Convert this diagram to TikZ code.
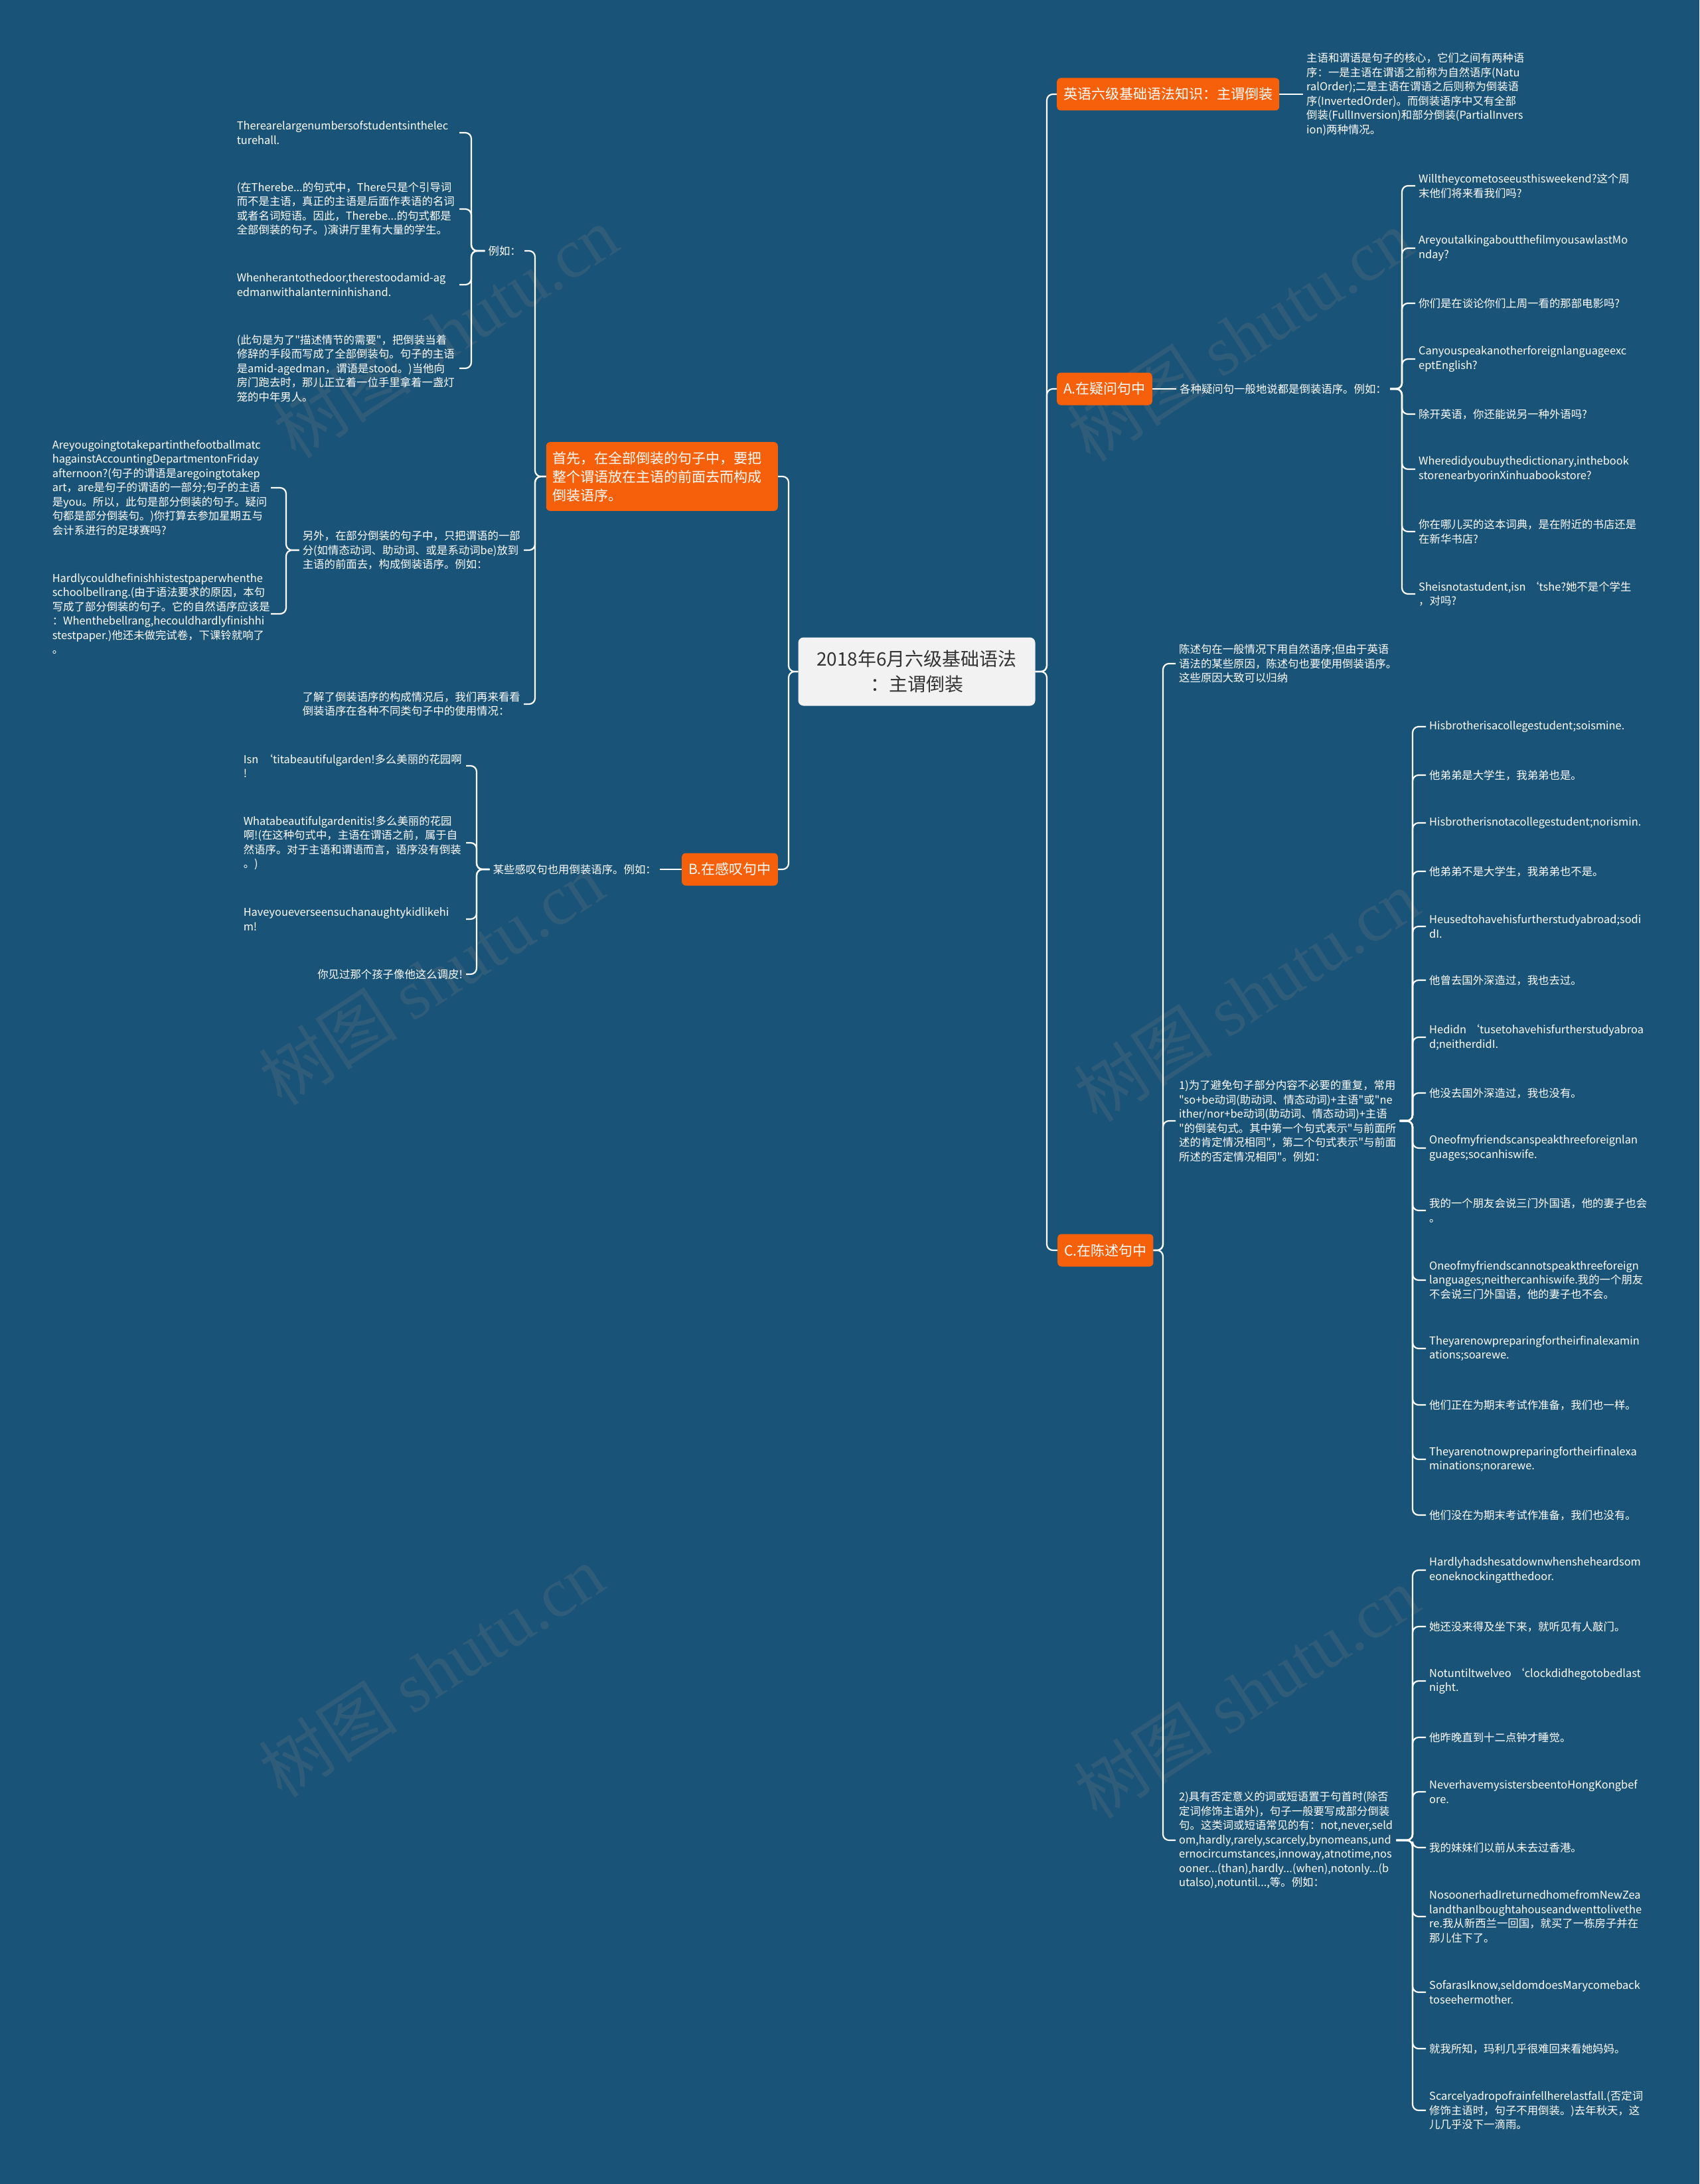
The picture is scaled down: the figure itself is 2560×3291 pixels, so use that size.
\documentclass[tikz,border=0pt]{standalone}
\usepackage{fontspec}
\setmainfont{Noto Sans CJK SC}[Ligatures=TeXOff]
\newfontfamily\markfont{Liberation Serif}
\definecolor{mapbg}{RGB}{26,83,120}
\definecolor{mporange}{RGB}{247,96,10}
\definecolor{rootgray}{RGB}{242,242,242}
\definecolor{rootink}{RGB}{51,51,51}
\definecolor{markgray}{RGB}{128,128,128}

\begin{document}
\begin{tikzpicture}[
  x=1pt, y=-1pt,
  every node/.style={font=\fontsize{16.4}{21.5}\selectfont},
  root/.style={fill=rootgray, text=rootink, rounded corners=8pt, minimum width=357pt, minimum height=103pt, align=center, font=\fontsize{28}{38}\selectfont},
  topic/.style={fill=mporange, text=white, rounded corners=6pt, inner xsep=10pt, inner ysep=14pt, minimum height=49pt, align=left, font=\fontsize{21}{28}\selectfont},
  leaf/.style={text=white, align=left, inner xsep=5pt, inner ysep=2pt},
  wideleaf/.style={leaf, text width=330pt},
  link/.style={draw=white, line width=2.2pt, rounded corners=9pt},
  wmark/.style={text=markgray, opacity=0.2, rotate=33, font=\fontsize{105}{110}\selectfont}
]

% Background
\fill[mapbg] (0,0) rectangle (2560,3291);
\useasboundingbox (0,0) rectangle (2560,3291);

% Watermarks
\node[wmark] (wm1) at (671,500) {树图 {\markfont shutu.cn}};
\node[wmark] (wm2) at (1868,505) {树图 {\markfont shutu.cn}};
\node[wmark] (wm3) at (650,1475) {树图 {\markfont shutu.cn}};
\node[wmark] (wm4) at (1878,1500) {树图 {\markfont shutu.cn}};
\node[wmark] (wm5) at (650,2518) {树图 {\markfont shutu.cn}};
\node[wmark] (wm6) at (1878,2550) {树图 {\markfont shutu.cn}};

% Spines
\coordinate (sRootL) at (1188,0);
\coordinate (sRootR) at (1577,0);
\coordinate (sFull) at (806,0);
\coordinate (sEg) at (710,0);
\coordinate (sPart) at (431,0);
\coordinate (sExh) at (718,0);
\coordinate (sQ) at (2112,0);
\coordinate (sStat) at (1752,0);
\coordinate (sEx) at (2128,0);

% Root
\node[root] (root) at (1381,1012) {2018年6月六级基础语法\\：主谓倒装};

% Left: full inversion
\node[topic, anchor=east, text width=329pt] (full) at (1172,718) {首先，在全部倒装的句子中，要把\\整个谓语放在主语的前面去而构成\\倒装语序。};
\node[leaf, anchor=east] (eg) at (790,378) {例如：};
\node[wideleaf, anchor=east] (eg1) at (692,200) {Therearelargenumbersofstudentsinthelec\\turehall.};
\node[wideleaf, anchor=east] (eg2) at (692,315) {(在Therebe...的句式中，There只是个引导词\\而不是主语，真正的主语是后面作表语的名词\\或者名词短语。因此，Therebe...的句式都是\\全部倒装的句子。)演讲厅里有大量的学生。};
\node[wideleaf, anchor=east] (eg3) at (692,429) {Whenherantothedoor,therestoodamid-ag\\edmanwithalanterninhishand.};
\node[wideleaf, anchor=east] (eg4) at (692,555) {(此句是为了"描述情节的需要"，把倒装当着\\修辞的手段而写成了全部倒装句。句子的主语\\是amid-agedman，谓语是stood。)当他向\\房门跑去时，那儿正立着一位手里拿着一盏灯\\笼的中年男人。};
\node[leaf, anchor=east] (part) at (789,829) {另外，在部分倒装的句子中，只把谓语的一部\\分(如情态动词、助动词、或是系动词be)放到\\主语的前面去，构成倒装语序。例如：};
\node[wideleaf, anchor=east, text width=324pt] (part1) at (408,735) {Areyougoingtotakepartinthefootballmatc\\hagainstAccountingDepartmentonFriday\\afternoon?(句子的谓语是aregoingtotakep\\art，are是句子的谓语的一部分;句子的主语\\是you。所以，此句是部分倒装的句子。疑问\\句都是部分倒装句。)你打算去参加星期五与\\会计系进行的足球赛吗?};
\node[wideleaf, anchor=east, text width=324pt] (part2) at (408,925) {Hardlycouldhefinishhistestpaperwhenthe\\schoolbellrang.(由于语法要求的原因，本句\\写成了部分倒装的句子。它的自然语序应该是\\：Whenthebellrang,hecouldhardlyfinishhi\\stestpaper.)他还未做完试卷，下课铃就响了\\。};
\node[leaf, anchor=east] (review) at (789,1061) {了解了倒装语序的构成情况后，我们再来看看\\倒装语序在各种不同类句子中的使用情况：};

% Left: exclamations
\node[topic, anchor=east] (excl) at (1172,1310) {B.在感叹句中};
\node[leaf, anchor=east] (exh) at (994,1310) {某些感叹句也用倒装语序。例如：};
\node[wideleaf, anchor=east] (exh1) at (702,1154) {Isn~‘titabeautifulgarden!多么美丽的花园啊\\!};
\node[wideleaf, anchor=east] (exh2) at (702,1270) {Whatabeautifulgardenitis!多么美丽的花园\\啊!(在这种句式中，主语在谓语之前，属于自\\然语序。对于主语和谓语而言，语序没有倒装\\。)};
\node[wideleaf, anchor=east] (exh3) at (702,1385) {Haveyoueverseensuchanaughtykidlikehi\\m!};
\node[leaf, anchor=east] (exh4) at (702,1468) {你见过那个孩子像他这么调皮!};

% Right: basics
\node[topic, anchor=west] (basic) at (1592,142) {英语六级基础语法知识：主谓倒装};
\node[leaf, anchor=west] (def) at (1963,142) {主语和谓语是句子的核心，它们之间有两种语\\序：一是主语在谓语之前称为自然语序(Natu\\ralOrder);二是主语在谓语之后则称为倒装语\\序(InvertedOrder)。而倒装语序中又有全部\\倒装(FullInversion)和部分倒装(PartialInvers\\ion)两种情况。};

% Right: questions
\node[topic, anchor=west] (quest) at (1592,586) {A.在疑问句中};
\node[leaf, anchor=west] (qintro) at (1772,586) {各种疑问句一般地说都是倒装语序。例如：};
\node[leaf, anchor=west] (q1) at (2132,280) {Willtheycometoseeusthisweekend?这个周\\末他们将来看我们吗?};
\node[leaf, anchor=west] (q2) at (2132,374) {AreyoutalkingaboutthefilmyousawlastMo\\nday?};
\node[leaf, anchor=west] (q3) at (2132,457) {你们是在谈论你们上周一看的那部电影吗?};
\node[leaf, anchor=west] (q4) at (2132,541) {Canyouspeakanotherforeignlanguageexc\\eptEnglish?};
\node[leaf, anchor=west] (q5) at (2132,624) {除开英语，你还能说另一种外语吗?};
\node[leaf, anchor=west] (q6) at (2132,707) {Wheredidyoubuythedictionary,inthebook\\storenearbyorinXinhuabookstore?};
\node[leaf, anchor=west] (q7) at (2132,801) {你在哪儿买的这本词典，是在附近的书店还是\\在新华书店?};
\node[leaf, anchor=west] (q8) at (2132,895) {Sheisnotastudent,isn ‘tshe?她不是个学生\\，对吗?};

% Right: statements
\node[topic, anchor=west] (stat) at (1593,1884) {C.在陈述句中};
\node[leaf, anchor=west] (stIntro) at (1771,1000) {陈述句在一般情况下用自然语序;但由于英语\\语法的某些原因，陈述句也要使用倒装语序。\\这些原因大致可以归纳};
\node[leaf, anchor=west] (rep) at (1771,1689) {1)为了避免句子部分内容不必要的重复，常用\\"so+be动词(助动词、情态动词)+主语"或"ne\\ither/nor+be动词(助动词、情态动词)+主语\\"的倒装句式。其中第一个句式表示"与前面所\\述的肯定情况相同"，第二个句式表示"与前面\\所述的否定情况相同"。例如：};
\node[leaf, anchor=west] (rep1) at (2148,1095) {Hisbrotherisacollegestudent;soismine.};
\node[leaf, anchor=west] (rep2) at (2148,1168) {他弟弟是大学生，我弟弟也是。};
\node[leaf, anchor=west] (rep3) at (2148,1240) {Hisbrotherisnotacollegestudent;norismin.};
\node[leaf, anchor=west] (rep4) at (2148,1313) {他弟弟不是大学生，我弟弟也不是。};
\node[leaf, anchor=west] (rep5) at (2148,1396) {Heusedtohavehisfurtherstudyabroad;sodi\\dI.};
\node[leaf, anchor=west] (rep6) at (2148,1477) {他曾去国外深造过，我也去过。};
\node[leaf, anchor=west] (rep7) at (2148,1563) {Hedidn ‘tusetohavehisfurtherstudyabroa\\d;neitherdidI.};
\node[leaf, anchor=west] (rep8) at (2148,1647) {他没去国外深造过，我也没有。};
\node[leaf, anchor=west] (rep9) at (2148,1730) {Oneofmyfriendscanspeakthreeforeignlan\\guages;socanhiswife.};
\node[leaf, anchor=west] (rep10) at (2148,1824) {我的一个朋友会说三门外国语，他的妻子也会\\。};
\node[leaf, anchor=west] (rep11) at (2148,1929) {Oneofmyfriendscannotspeakthreeforeign\\languages;neithercanhiswife.我的一个朋友\\不会说三门外国语，他的妻子也不会。};
\node[leaf, anchor=west] (rep12) at (2148,2032) {Theyarenowpreparingfortheirfinalexamin\\ations;soarewe.};
\node[leaf, anchor=west] (rep13) at (2148,2117) {他们正在为期末考试作准备，我们也一样。};
\node[leaf, anchor=west] (rep14) at (2148,2199) {Theyarenotnowpreparingfortheirfinalexa\\minations;norarewe.};
\node[leaf, anchor=west] (rep15) at (2148,2283) {他们没在为期末考试作准备，我们也没有。};
\node[leaf, anchor=west] (neg) at (1771,2773) {2)具有否定意义的词或短语置于句首时(除否\\定词修饰主语外)，句子一般要写成部分倒装\\句。这类词或短语常见的有：not,never,seld\\om,hardly,rarely,scarcely,bynomeans,und\\ernocircumstances,innoway,atnotime,nos\\ooner...(than),hardly...(when),notonly...(b\\utalso),notuntil...,等。例如：};
\node[leaf, anchor=west] (neg1) at (2148,2366) {Hardlyhadshesatdownwhensheheardsom\\eoneknockingatthedoor.};
\node[leaf, anchor=west] (neg2) at (2148,2451) {她还没来得及坐下来，就听见有人敲门。};
\node[leaf, anchor=west] (neg3) at (2148,2533) {Notuntiltwelveo ‘clockdidhegotobedlast\\night.};
\node[leaf, anchor=west] (neg4) at (2148,2618) {他昨晚直到十二点钟才睡觉。};
\node[leaf, anchor=west] (neg5) at (2148,2700) {NeverhavemysistersbeentoHongKongbef\\ore.};
\node[leaf, anchor=west] (neg6) at (2148,2784) {我的妹妹们以前从未去过香港。};
\node[leaf, anchor=west] (neg7) at (2148,2888) {NosoonerhadIreturnedhomefromNewZea\\landthanIboughtahouseandwenttolivethe\\re.我从新西兰一回国，就买了一栋房子并在\\那儿住下了。};
\node[leaf, anchor=west] (neg8) at (2148,3002) {SofarasIknow,seldomdoesMarycomeback\\toseehermother.};
\node[leaf, anchor=west] (neg9) at (2148,3087) {就我所知，玛利几乎很难回来看她妈妈。};
\node[leaf, anchor=west] (neg10) at (2148,3180) {Scarcelyadropofrainfellherelastfall.(否定词\\修饰主语时，句子不用倒装。)去年秋天，这\\儿几乎没下一滴雨。};

% Connections: root
\draw[link] (root.west) -- (root.west -| sRootL) |- (full.east);
\draw[link] (root.west) -- (root.west -| sRootL) |- (excl.east);
\draw[link] (root.east) -- (root.east -| sRootR) |- (basic.west);
\draw[link] (root.east) -- (root.east -| sRootR) |- (quest.west);
\draw[link] (root.east) -- (root.east -| sRootR) |- (stat.west);

% Connections: left
\draw[link] (full.west) -- (full.west -| sFull) |- (eg.east);
\draw[link] (full.west) -- (full.west -| sFull) |- (part.east);
\draw[link] (full.west) -- (full.west -| sFull) |- (review.east);
\draw[link] (eg.west) -- (eg.west -| sEg) |- (eg1.east);
\draw[link] (eg.west) -- (eg.west -| sEg) |- (eg2.east);
\draw[link] (eg.west) -- (eg.west -| sEg) |- (eg3.east);
\draw[link] (eg.west) -- (eg.west -| sEg) |- (eg4.east);
\draw[link] (part.west) -- (part.west -| sPart) |- (part1.east);
\draw[link] (part.west) -- (part.west -| sPart) |- (part2.east);
\draw[link] (excl.west) -- (exh.east);
\draw[link] (exh.west) -- (exh.west -| sExh) |- (exh1.east);
\draw[link] (exh.west) -- (exh.west -| sExh) |- (exh2.east);
\draw[link] (exh.west) -- (exh.west -| sExh) |- (exh3.east);
\draw[link] (exh.west) -- (exh.west -| sExh) |- (exh4.east);

% Connections: right
\draw[link] (basic.east) -- (def.west);
\draw[link] (quest.east) -- (qintro.west);
\draw[link] (qintro.east) -- (qintro.east -| sQ) |- (q1.west);
\draw[link] (qintro.east) -- (qintro.east -| sQ) |- (q2.west);
\draw[link] (qintro.east) -- (qintro.east -| sQ) |- (q3.west);
\draw[link] (qintro.east) -- (qintro.east -| sQ) |- (q4.west);
\draw[link] (qintro.east) -- (qintro.east -| sQ) |- (q5.west);
\draw[link] (qintro.east) -- (qintro.east -| sQ) |- (q6.west);
\draw[link] (qintro.east) -- (qintro.east -| sQ) |- (q7.west);
\draw[link] (qintro.east) -- (qintro.east -| sQ) |- (q8.west);
\draw[link] (stat.east) -- (stat.east -| sStat) |- (stIntro.west);
\draw[link] (stat.east) -- (stat.east -| sStat) |- (rep.west);
\draw[link] (stat.east) -- (stat.east -| sStat) |- (neg.west);
\draw[link] (rep.east) -- (rep.east -| sEx) |- (rep1.west);
\draw[link] (rep.east) -- (rep.east -| sEx) |- (rep2.west);
\draw[link] (rep.east) -- (rep.east -| sEx) |- (rep3.west);
\draw[link] (rep.east) -- (rep.east -| sEx) |- (rep4.west);
\draw[link] (rep.east) -- (rep.east -| sEx) |- (rep5.west);
\draw[link] (rep.east) -- (rep.east -| sEx) |- (rep6.west);
\draw[link] (rep.east) -- (rep.east -| sEx) |- (rep7.west);
\draw[link] (rep.east) -- (rep.east -| sEx) |- (rep8.west);
\draw[link] (rep.east) -- (rep.east -| sEx) |- (rep9.west);
\draw[link] (rep.east) -- (rep.east -| sEx) |- (rep10.west);
\draw[link] (rep.east) -- (rep.east -| sEx) |- (rep11.west);
\draw[link] (rep.east) -- (rep.east -| sEx) |- (rep12.west);
\draw[link] (rep.east) -- (rep.east -| sEx) |- (rep13.west);
\draw[link] (rep.east) -- (rep.east -| sEx) |- (rep14.west);
\draw[link] (rep.east) -- (rep.east -| sEx) |- (rep15.west);
\draw[link] (neg.east) -- (neg.east -| sEx) |- (neg1.west);
\draw[link] (neg.east) -- (neg.east -| sEx) |- (neg2.west);
\draw[link] (neg.east) -- (neg.east -| sEx) |- (neg3.west);
\draw[link] (neg.east) -- (neg.east -| sEx) |- (neg4.west);
\draw[link] (neg.east) -- (neg.east -| sEx) |- (neg5.west);
\draw[link] (neg.east) -- (neg.east -| sEx) |- (neg6.west);
\draw[link] (neg.east) -- (neg.east -| sEx) |- (neg7.west);
\draw[link] (neg.east) -- (neg.east -| sEx) |- (neg8.west);
\draw[link] (neg.east) -- (neg.east -| sEx) |- (neg9.west);
\draw[link] (neg.east) -- (neg.east -| sEx) |- (neg10.west);

\end{tikzpicture}
\end{document}
